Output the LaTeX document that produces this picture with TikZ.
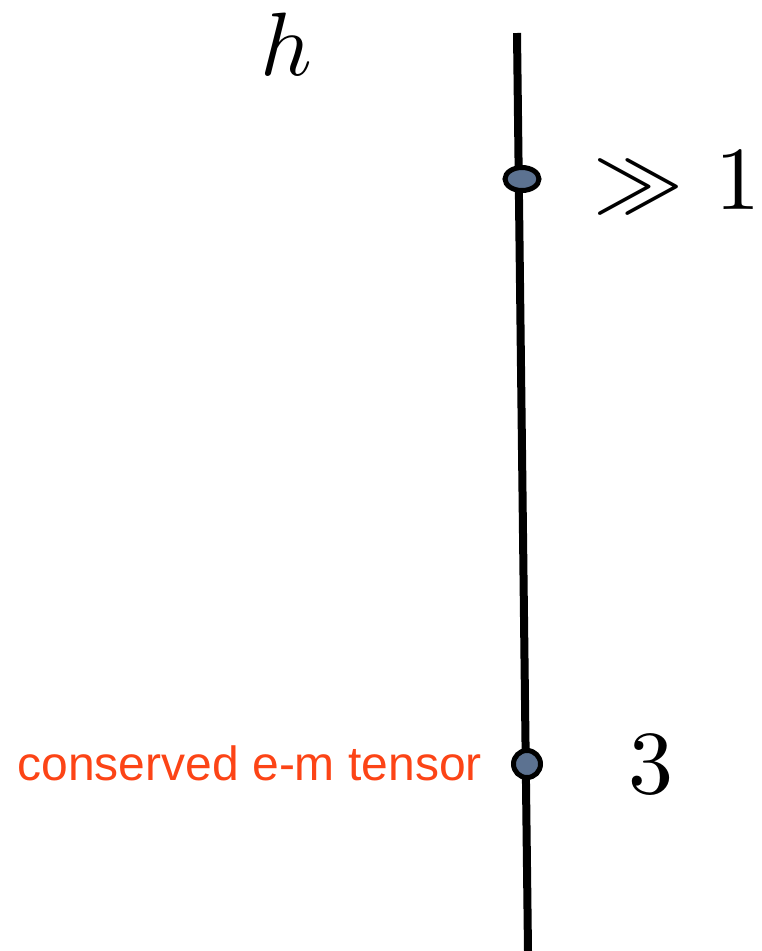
\documentclass[tikz,border=0pt]{standalone}
\usepackage{amsmath,amssymb}
\usepackage{graphicx}
\usepackage{fontspec}
\newfontfamily\labelfont{Liberation Sans}
\usetikzlibrary{positioning,shapes}
\definecolor{dotblue}{RGB}{92,114,145}
\definecolor{labelred}{RGB}{252,68,22}
\newcommand{\bigmath}[1]{\scalebox{9}{$#1$}}

\begin{document}
\begin{tikzpicture}[
  x=1pt,y=1pt,
  dot/.style={draw,ellipse,fill=dotblue,line width=5pt,inner sep=0pt},
  mathlabel/.style={inner sep=0pt},
  redlabel/.style={inner sep=0pt,text=labelred,font=\labelfont\fontsize{48}{56}\selectfont}
]
\useasboundingbox (0,0) rectangle (762,-951);
\coordinate (top) at (517,-33);
\coordinate (bot) at (528,-951);
\draw[line width=8pt] (top) -- (bot);
\node[dot,minimum width=34pt,minimum height=23pt] (large) at (522,-179) {};
\node[dot,minimum width=27pt,minimum height=27pt] (em) at (527,-764) {};
\node[mathlabel,anchor=base] (h) at (286,-75) {\bigmath{h}};
\node[mathlabel,anchor=base west] (gg) at (593,-209) {\bigmath{\gg\mkern1.5mu 1}};
\node[mathlabel,anchor=base] (three) at (651,-793) {\bigmath{3}};
\node[redlabel,anchor=base east] (cons) at (482,-780) {conserved e-m tensor};
\end{tikzpicture}
\end{document}
